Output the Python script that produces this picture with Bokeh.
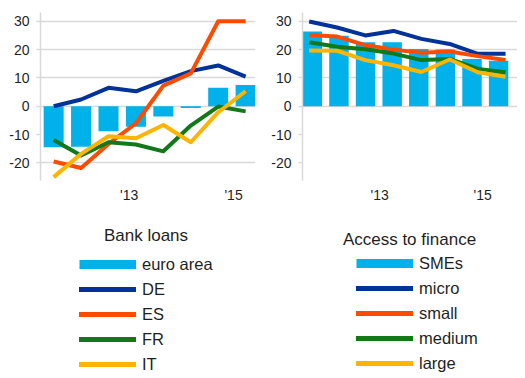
from bokeh.plotting import figure
from bokeh.models import ColumnDataSource, FixedTicker, Range1d, Legend, LegendItem, Label
from bokeh.layouts import column, row
from bokeh.embed import file_html
from bokeh.resources import INLINE

# ---------------- data ----------------
periods = [0, 1, 2, 3, 4, 5, 6, 7]               # half-yearly observations
# Bank loans panel
euro_area = [-14.5, -14.3, -8.8, -7.2, -3.6, -0.6, 6.5, 7.5]
de = [0.0, 2.4, 6.5, 5.3, 9.0, 12.4, 14.4, 10.5]
es = [-19.5, -21.8, -13.3, -6.0, 7.3, 11.6, 30.0, 30.0]
fr = [-11.9, -17.4, -12.7, -13.5, -15.9, -6.8, -0.1, -1.8]
it = [-25.0, -16.8, -10.6, -11.3, -6.6, -12.7, -2.1, 5.3]
left_tick_pos = [2.75, 6.56]
# Access to finance panel
smes = [26.4, 24.9, 22.6, 22.6, 20.2, 20.0, 16.7, 16.1]
survey_pos = [-0.12, 0.93, 1.99, 3.05, 4.1, 5.16, 6.22, 7.26]
micro = [29.9, 27.8, 25.0, 26.6, 23.8, 22.0, 18.5, 18.5]
small = [25.2, 24.6, 21.6, 20.0, 18.9, 19.3, 17.7, 16.3]
medium = [22.6, 21.0, 20.1, 18.6, 16.3, 16.7, 13.2, 12.0]
large = [19.7, 19.6, 16.3, 14.5, 12.1, 16.5, 12.0, 10.4]
right_tick_pos = [2.53, 6.4]
tick_labels = ["'13", "'15"]
y_ticks = [-20, -10, 0, 10, 20, 30]
y_tick_labels = ["-20", "-10", "0", "10", "20", "30"]
left_names = ["euro area", "DE", "ES", "FR", "IT"]
right_names = ["SMEs", "micro", "small", "medium", "large"]

# ---------------- style ----------------
FONT = "Liberation Sans"
TXT = "#1f1f1f"
GRID = "#d9d9d9"
C_BAR = "#00B1EA"
C_DB = "#003299"
C_OR = "#FF4B00"
C_GR = "#12781A"
C_YE = "#FFB400"
LINE_COLORS = [C_DB, C_OR, C_GR, C_YE]


def make_panel(width, border_left, x_start, x_end, tick_pos, grid_ticks):
    p = figure(width=width, height=208, output_backend="svg", toolbar_location=None,
               x_range=Range1d(x_start, x_end), y_range=Range1d(-26.2, 33.1),
               min_border_left=border_left, min_border_top=12, min_border_bottom=28)
    p.outline_line_color = None
    p.xgrid.visible = False
    p.ygrid.ticker = FixedTicker(ticks=grid_ticks)
    p.ygrid.grid_line_color = GRID
    p.ygrid.grid_line_width = 1.5
    ya = p.yaxis[0]
    ya.ticker = FixedTicker(ticks=y_ticks)
    ya.major_label_overrides = {t: lab for t, lab in zip(y_ticks, y_tick_labels)}
    ya.axis_line_color = GRID
    ya.axis_line_width = 1.5
    ya.major_tick_line_color = GRID
    ya.major_tick_line_width = 1.5
    ya.major_tick_in = 0
    ya.major_tick_out = 4
    ya.minor_tick_line_color = None
    ya.major_label_standoff = 7
    ya.major_label_text_font = FONT
    ya.major_label_text_font_size = "14px"
    ya.major_label_text_color = TXT
    xa = p.xaxis[0]
    xa.ticker = FixedTicker(ticks=tick_pos)
    xa.major_label_overrides = {tp: lab for tp, lab in zip(tick_pos, tick_labels)}
    xa.axis_line_color = None
    xa.major_tick_line_color = None
    xa.minor_tick_line_color = None
    xa.major_label_standoff = 0
    xa.major_label_text_font = FONT
    xa.major_label_text_font_size = "14px"
    xa.major_label_text_color = TXT
    return p


# ---------------- left panel ----------------
p1 = make_panel(268, 40, -0.48, 7.36, left_tick_pos, [-20, 0, 10, 20, 30])
p1.min_border_right = 13
src1 = ColumnDataSource(dict(x=periods, ea=euro_area, de=de, es=es, fr=fr, it=it))
p1.vbar(x="x", top="ea", bottom=0, width=0.73, source=src1, fill_color=C_BAR, line_color=None)
for col, c in zip(["de", "es", "fr", "it"], LINE_COLORS):
    p1.line(x="x", y=col, source=src1, line_color=c, line_width=4, line_join="round")

# ---------------- right panel ----------------
p2 = make_panel(249, 32, -0.37, 7.71, right_tick_pos, [0, 10, 20, 30])
p2.min_border_right = 0
src2b = ColumnDataSource(dict(x=periods, smes=smes))
src2l = ColumnDataSource(dict(x=survey_pos, micro=micro, small=small, medium=medium, large=large))
p2.vbar(x="x", top="smes", bottom=0, width=0.73, source=src2b, fill_color=C_BAR, line_color=None)
for col, c in zip(["micro", "small", "medium", "large"], LINE_COLORS):
    p2.line(x="x", y=col, source=src2l, line_color=c, line_width=4, line_join="round")


# ---------------- legends ----------------
def make_legend(width, title, title_x, title_y, names, series, loc):
    lf = figure(width=width, height=168, output_backend="svg", toolbar_location=None,
                x_range=Range1d(1000, 1001), y_range=Range1d(1000, 1001),
                min_border_left=0, min_border_right=0, min_border_top=0, min_border_bottom=0)
    lf.axis.visible = False
    lf.grid.visible = False
    lf.outline_line_color = None
    items = []
    for i, (name, vals) in enumerate(zip(names, series)):
        s = ColumnDataSource(dict(x=periods, y=vals))
        if i == 0:
            r = lf.line(x="x", y="y", source=s, line_color=C_BAR, line_width=9, line_cap="butt")
        else:
            r = lf.line(x="x", y="y", source=s, line_color=LINE_COLORS[i - 1], line_width=5,
                        line_cap="round")
        items.append(LegendItem(label=name, renderers=[r]))
    leg = Legend(items=items, location=loc, orientation="vertical",
                 border_line_color=None, background_fill_alpha=0,
                 padding=0, margin=0, spacing=5,
                 glyph_width=57, glyph_height=20, label_height=20, label_standoff=6,
                 label_text_font=FONT, label_text_font_size="16.5px", label_text_color=TXT)
    lf.add_layout(leg, "center")
    lf.add_layout(Label(x=title_x, y=title_y, x_units="screen", y_units="screen", text=title,
                        text_align="center", text_baseline="middle", text_font=FONT,
                        text_font_size="17px", text_color=TXT))
    return lf


l1 = make_legend(268, "Bank loans", 145.5, 141, left_names, [euro_area, de, es, fr, it], (79, 2))
l2 = make_legend(249, "Access to finance", 141, 137, right_names,
                 [smes, micro, small, medium, large], (88, 3))

layout = column(row(p1, p2), row(l1, l2))
open("out.html", "w").write(file_html(layout, INLINE))
